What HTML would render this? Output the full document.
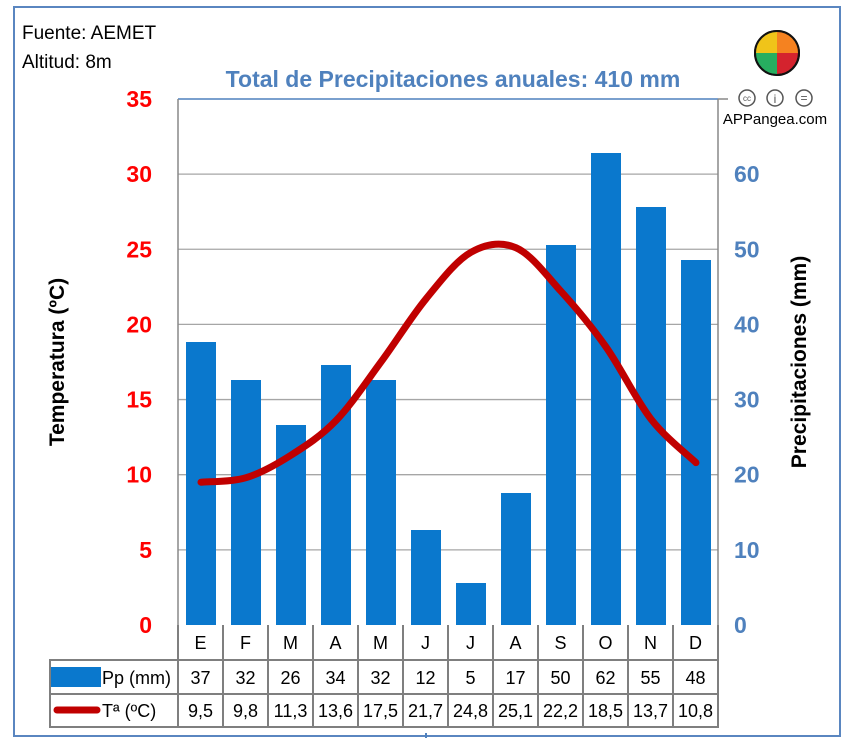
<!DOCTYPE html>
<html><head><meta charset="utf-8"><style>
body{margin:0;background:#fff;}
svg{display:block;font-family:"Liberation Sans",sans-serif;}
</style></head><body>
<svg id="s" width="852" height="738" viewBox="0 0 852 738" xmlns="http://www.w3.org/2000/svg">
<rect x="0" y="0" width="852" height="738" fill="#fff"/>
<rect x="14" y="7" width="826" height="729" fill="none" stroke="#5a86c0" stroke-width="2"/>
<text x="22" y="39" font-size="19" fill="#000">Fuente: AEMET</text>
<text x="22" y="68" font-size="19" fill="#000">Altitud: 8m</text>
<text x="453" y="87" font-size="23" font-weight="bold" fill="#4f81bd" text-anchor="middle">Total de Precipitaciones anuales: 410 mm</text>
<g id="grid" stroke="#a6a6a6" stroke-width="1.3"></g>
<line x1="178" y1="99" x2="718" y2="99" stroke="#4f81bd" stroke-width="1.5"/>
<line x1="718" y1="99" x2="728" y2="99" stroke="#888" stroke-width="1.5"/>
<line x1="178" y1="99" x2="178" y2="625" stroke="#888" stroke-width="1.5"/>
<line x1="718" y1="99" x2="718" y2="625" stroke="#888" stroke-width="1.5"/>
<g id="bars" fill="#0a78cd"></g>
<path id="temp" fill="none" stroke="#c00000" stroke-width="7" stroke-linecap="round" stroke-linejoin="round"/>
<g id="ylab" font-size="23" font-weight="bold" fill="#ff0000" text-anchor="end"></g>
<g id="y2lab" font-size="23" font-weight="bold" fill="#4f81bd" text-anchor="start"></g>
<text transform="translate(64,362) rotate(-90)" font-size="21" font-weight="bold" text-anchor="middle">Temperatura (ºC)</text>
<text transform="translate(806,362) rotate(-90)" font-size="21" font-weight="bold" text-anchor="middle">Precipitaciones (mm)</text>
<g id="table" stroke="#7f7f7f" stroke-width="2" fill="none"></g>
<g id="ttext" font-size="18" fill="#000" text-anchor="middle"></g>
<rect x="51" y="667" width="50" height="20" fill="#0a78cd"/>
<text x="102" y="684" font-size="18">Pp (mm)</text>
<line x1="57" y1="710" x2="97" y2="710" stroke="#c00000" stroke-width="7" stroke-linecap="round"/>
<text x="102" y="717" font-size="18">Tª (ºC)</text>
<circle cx="777" cy="53" r="22" fill="#d4232e" stroke="#111" stroke-width="2"/>
<path d="M777 53 L777 31 A22 22 0 0 0 755 53 Z" fill="#f0c419"/>
<path d="M777 53 L799 53 A22 22 0 0 0 777 31 Z" fill="#f58220"/>
<path d="M777 53 L755 53 A22 22 0 0 0 777 75 Z" fill="#27ae60"/>
<circle cx="777" cy="53" r="22" fill="none" stroke="#111" stroke-width="2"/>
<g fill="none" stroke="#555" stroke-width="1.5"><circle cx="747" cy="98" r="8"/><circle cx="775" cy="98" r="8"/><circle cx="804" cy="98" r="8"/></g>
<text x="747" y="101" font-size="8" text-anchor="middle" fill="#555">cc</text>
<text x="775" y="103" font-size="12" text-anchor="middle" fill="#555">i</text>
<text x="804" y="102" font-size="12" text-anchor="middle" fill="#555">=</text>
<text x="775" y="124" font-size="15" text-anchor="middle" fill="#000">APPangea.com</text>
<line x1="426" y1="733" x2="426" y2="738" stroke="#4f81bd" stroke-width="2"/>
</svg>
<script>
var NS="http://www.w3.org/2000/svg";
function el(p,t,a,txt){var e=document.createElementNS(NS,t);for(var k in a)e.setAttribute(k,a[k]);if(txt!=null)e.textContent=txt;document.getElementById(p).appendChild(e);}
for(var i=1;i<=6;i++){var y=625-i*75.15;el("grid","line",{x1:178,y1:y,x2:718,y2:y});}
var tops=[342,380,425,365,380,530,583,493,245,153,207,260];
tops.forEach(function(t,i){el("bars","rect",{x:186+45*i,y:t,width:30,height:625-t});});
var T=[9.5,9.8,11.3,13.6,17.5,21.7,24.8,25.1,22.2,18.5,13.7,10.8];
var P=T.map(function(v,i){return [201+45*i,625-v*15.03];});
var d="M"+P[0][0]+" "+P[0][1];
for(var i=0;i<P.length-1;i++){var p0=P[Math.max(i-1,0)],p1=P[i],p2=P[i+1],p3=P[Math.min(i+2,P.length-1)];
d+=" C"+(p1[0]+(p2[0]-p0[0])/6)+" "+(p1[1]+(p2[1]-p0[1])/6)+" "+(p2[0]-(p3[0]-p1[0])/6)+" "+(p2[1]-(p3[1]-p1[1])/6)+" "+p2[0]+" "+p2[1];}
document.getElementById("temp").setAttribute("d",d);
for(var i=0;i<=7;i++){el("ylab","text",{x:152,y:625-i*75.15+8},String(i*5));}
for(var i=0;i<=6;i++){el("y2lab","text",{x:734,y:625-i*75.15+8},String(i*10));}
el("table","line",{x1:178,y1:625,x2:178,y2:727});
el("table","rect",{x:50,y:660,width:668,height:67});
el("table","line",{x1:50,y1:694,x2:718,y2:694});
el("table","line",{x1:178,y1:660,x2:718,y2:660});
for(var i=1;i<=12;i++){el("table","line",{x1:178+45*i,y1:625,x2:178+45*i,y2:727});}
var M=["E","F","M","A","M","J","J","A","S","O","N","D"];
var Pp=[37,32,26,34,32,12,5,17,50,62,55,48];
var Ts=["9,5","9,8","11,3","13,6","17,5","21,7","24,8","25,1","22,2","18,5","13,7","10,8"];
for(var i=0;i<12;i++){var x=200.5+45*i;el("ttext","text",{x:x,y:649},M[i]);el("ttext","text",{x:x,y:684},String(Pp[i]));el("ttext","text",{x:x,y:717},Ts[i]);}
</script>
</body></html>
